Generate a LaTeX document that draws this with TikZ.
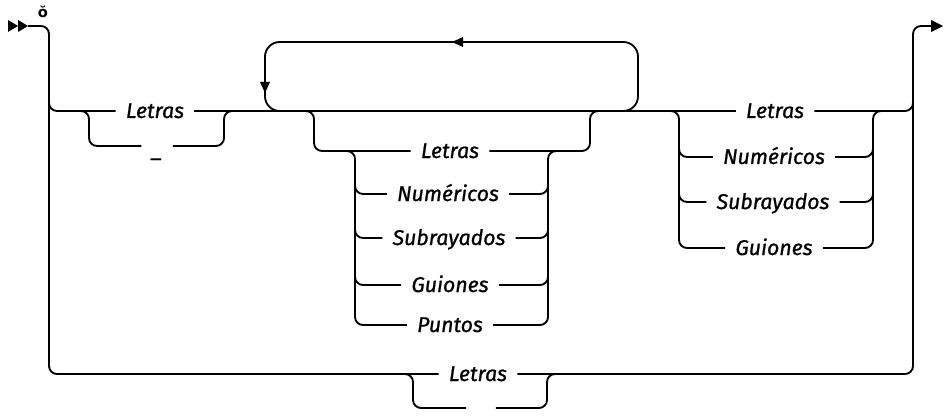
\documentclass[tikz,border=0pt]{standalone}
\usepackage{fontspec}
\setmainfont{Fira Sans}
\newfontfamily\lblfont{Fira Sans}[FakeBold=0.9]
\newfontfamily\symfont{DejaVu Sans}
\begin{document}
\begin{tikzpicture}[x=0.75pt,y=-0.75pt, line width=1.4pt,
  rr/.style={rounded corners=6pt},
  loopr/.style={rounded corners=11pt},
  lbl/.style={font=\lblfont\fontsize{16}{19}\selectfont\itshape, inner xsep=7pt, inner ysep=0pt, text height=10.5pt, text depth=0pt, anchor=center}]
\useasboundingbox (0,0) rectangle (945,417);
% labels
\node[lbl] (a1) at (155,111) {Letras};
\node[lbl] (a2) at (157,146) {\raisebox{-3pt}{\_}};
\node[lbl] (b1) at (450,151) {Letras};
\node[lbl] (b2) at (448,194) {Numéricos};
\node[lbl] (b3) at (449,238) {Subrayados};
\node[lbl] (b4) at (450,285) {Guiones};
\node[lbl] (b5) at (450,325) {Puntos};
\node[lbl] (c1) at (775,111) {Letras};
\node[lbl] (c2) at (774,157) {Numéricos};
\node[lbl] (c3) at (773,202) {Subrayados};
\node[lbl] (c4) at (774,248) {Guiones};
\node[lbl] (d1) at (478,374) {Letras};
\node[lbl, minimum width=21pt] (d2) at (481,408) {};
\node[font=\symfont\bfseries\fontsize{11}{12}\selectfont, inner sep=0pt] (g) at (43,12) {ŏ};
\coordinate (start) at (28,26);
\coordinate (end) at (932,26);
% start / end arrows
\fill (8,20) -- (18,26) -- (8,32) -- cycle;
\fill (18,20) -- (28,26) -- (18,32) -- cycle;
\fill (931,20) -- (943,26) -- (931,32) -- cycle;
% outer frame and bottom alternative
\draw[rr] (start) -- (49,26) -- (49,374) -- (d1.west);
\draw[rr] (d1.east) -- (913,374) -- (913,26) -- (end);
\draw[rr] (405,374) -- (413,374) -- (413,408) -- (d2.west);
\draw[rr] (d2.east) -- (547,408) -- (547,374) -- (555,374);
% top main line
\draw[rr] (49,95) -- (49,111) -- (a1.west);
\draw (a1.east) -- (c1.west);
\draw[rr] (c1.east) -- (913,111) -- (913,95);
% left choice
\draw[rr] (81,111) -- (89,111) -- (89,146) -- (a2.west);
\draw[rr] (a2.east) -- (224,146) -- (224,111) -- (232,111);
% repeat loop
\draw[loopr] (622,111) -- (638,111) -- (638,42) -- (265,42) -- (265,111) -- (281,111);
\fill (463,37) -- (452,42) -- (463,47) -- cycle;
\fill (260,82) -- (265,93) -- (270,82) -- cycle;
% middle group
\draw[rr] (306,111) -- (314,111) -- (314,151) -- (b1.west);
\draw[rr] (b1.east) -- (590,151) -- (590,111) -- (598,111);
\draw[rr] (347,151) -- (355,151) -- (355,325) -- (b5.west);
\draw[rr] (b5.east) -- (548,325) -- (548,151) -- (556,151);
\draw[rr] (355,178) -- (355,194) -- (b2.west);
\draw[rr] (b2.east) -- (548,194) -- (548,178);
\draw[rr] (355,222) -- (355,238) -- (b3.west);
\draw[rr] (b3.east) -- (548,238) -- (548,222);
\draw[rr] (355,269) -- (355,285) -- (b4.west);
\draw[rr] (b4.east) -- (548,285) -- (548,269);
% right group
\draw[rr] (671,111) -- (679,111) -- (679,248) -- (c4.west);
\draw[rr] (c4.east) -- (873,248) -- (873,111) -- (881,111);
\draw[rr] (679,141) -- (679,157) -- (c2.west);
\draw[rr] (c2.east) -- (873,157) -- (873,141);
\draw[rr] (679,186) -- (679,202) -- (c3.west);
\draw[rr] (c3.east) -- (873,202) -- (873,186);
\end{tikzpicture}
\end{document}
